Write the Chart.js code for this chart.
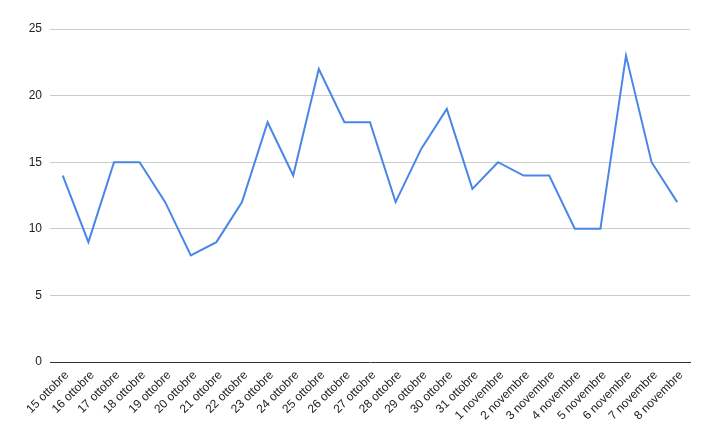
<!DOCTYPE html>
<html>
<head>
<meta charset="utf-8">
<script src="https://cdn.jsdelivr.net/npm/chart.js@4.4.1/dist/chart.umd.min.js"></script>
<style>
  html, body { margin: 0; padding: 0; background: #fff; }
  #wrap { width: 713px; height: 441px; }
</style>
</head>
<body>
<div id="wrap"><canvas id="chart" width="713" height="441"></canvas></div>
<script>
// Data
const days = [
  "15 ottobre", "16 ottobre", "17 ottobre", "18 ottobre", "19 ottobre",
  "20 ottobre", "21 ottobre", "22 ottobre", "23 ottobre", "24 ottobre",
  "25 ottobre", "26 ottobre", "27 ottobre", "28 ottobre", "29 ottobre",
  "30 ottobre", "31 ottobre", "1 novembre", "2 novembre", "3 novembre",
  "4 novembre", "5 novembre", "6 novembre", "7 novembre", "8 novembre"
];
const counts = [14, 9, 15, 15, 12, 8, 9, 12, 18, 14, 22, 18, 18, 12, 16, 19, 13, 15, 14, 14, 10, 10, 23, 15, 12];
const yTicks = [0, 5, 10, 15, 20, 25];

const font = { family: "Arial, 'Liberation Sans', sans-serif", size: 12 };

new Chart(document.getElementById("chart").getContext("2d"), {
  type: "line",
  data: {
    labels: days,
    datasets: [{
      data: counts,
      borderColor: "#4a86e8",
      borderWidth: 2,
      pointRadius: 0,
      tension: 0,
      fill: false
    }]
  },
  options: {
    responsive: false,
    animation: false,
    layout: { padding: { top: 29, right: 23, left: 0, bottom: 0 } },
    plugins: { legend: { display: false }, tooltip: { enabled: false } },
    scales: {
      x: {
        offset: true,
        grid: { display: false },
        border: { display: true, color: "#333", width: 1 },
        ticks: { font: font, color: "#222", minRotation: 45, maxRotation: 45, autoSkip: false, padding: -2, labelOffset: 4 },
        afterFit: s => { s.height = 79; }
      },
      y: {
        min: 0,
        max: 25,
        afterBuildTicks: s => { s.ticks = yTicks.map(v => ({ value: v })); },
        grid: {
          color: c => c.tick.value === 0 ? "rgba(0,0,0,0)" : "#cccccc",
          drawTicks: false
        },
        border: { display: false },
        ticks: { font: font, color: "#222", padding: 8 },
        afterFit: s => { s.width = 50; }
      }
    }
  }
});
</script>
</body>
</html>
